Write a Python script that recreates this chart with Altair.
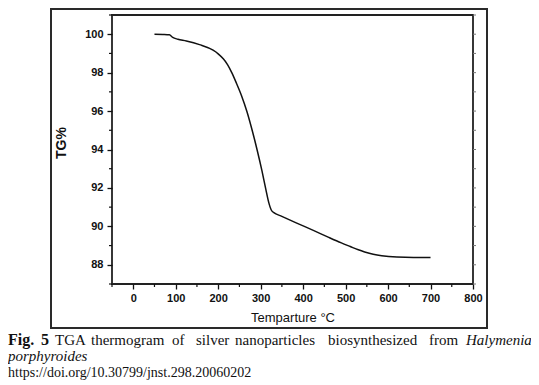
import altair as alt
import pandas as pd

# ---- data ----
temperature = [50, 70, 85, 93, 105, 125, 156, 188, 200, 212, 222, 232, 243, 255, 268, 280,
               292, 303, 312, 319, 325, 332, 346, 385, 424, 459, 490, 511, 530, 545, 565, 585,
               621, 660, 700]
tg_percent = [100.0, 99.99, 99.97, 99.83, 99.74, 99.65, 99.46, 99.17, 98.98, 98.72, 98.42, 98.0,
              97.45, 96.8, 95.95, 95.0, 93.95, 92.9, 91.95, 91.25, 90.85, 90.7, 90.56, 90.17,
              89.79, 89.44, 89.14, 88.95, 88.78, 88.67, 88.55, 88.47, 88.40, 88.38, 88.38]

y_major = [88, 90, 92, 94, 96, 98, 100]
y_minor = [87, 89, 91, 93, 95, 97, 99, 101]
x_major = [0, 100, 200, 300, 400, 500, 600, 700, 800]
x_minor = [-50, 50, 150, 250, 350, 450, 550, 650, 750]

x_title = "Temparture °C"
y_title = "TG%"
cap_words = ["TGA", "thermogram", "of", "silver", "nanoparticles", "biosynthesized", "from"]
cap_x = [-57, -21, 60, 84, 123, 216, 317]

W, H = 361, 269
xs = alt.Scale(domain=[-50, 800], nice=False, zero=False)
ys = alt.Scale(domain=[87, 101], nice=False, zero=False)

df = pd.DataFrame({"T": temperature, "TG": tg_percent})
one = pd.DataFrame({"d": [0]})
ymin_df = pd.DataFrame({"v": y_minor})
yall_df = pd.DataFrame({"v": sorted(y_major + y_minor)})
xmin_df = pd.DataFrame({"v": x_minor})

AX_FONT = "Liberation Sans"

line = alt.Chart(df).mark_line(color="#111111", strokeWidth=1.5, interpolate="monotone").encode(
    x=alt.X("T:Q", scale=xs, axis=alt.Axis(
        orient="bottom", values=x_major, title=None, grid=False, domain=False, tickSize=5,
        tickWidth=1.3, tickColor="#111111", labelFont=AX_FONT, labelFontSize=11,
        labelFontWeight="bold", labelColor="#111111", labelPadding=3, format="d",
        labelFlush=False)),
    y=alt.Y("TG:Q", scale=ys, axis=alt.Axis(
        orient="left", values=y_major, title=None, grid=False, domain=False, tickSize=5,
        tickWidth=1.3, tickColor="#111111", labelFont=AX_FONT, labelFontSize=11,
        labelFontWeight="bold", labelColor="#111111", labelPadding=4, format="d")),
)

y_minor_ticks = alt.Chart(ymin_df).mark_rule(color="#111111", strokeWidth=1.2).encode(
    y=alt.Y("v:Q", scale=ys, axis=None), x=alt.value(-3), x2=alt.value(0))
x_minor_ticks = alt.Chart(xmin_df).mark_rule(color="#111111", strokeWidth=1.2).encode(
    x=alt.X("v:Q", scale=xs, axis=None), y=alt.value(H), y2=alt.value(H + 3))
right_ticks = alt.Chart(yall_df).mark_rule(color="#777777", strokeWidth=1).encode(
    y=alt.Y("v:Q", scale=ys, axis=None), x=alt.value(W), x2=alt.value(W + 3))

outer_box = alt.Chart(one).mark_rect(fillOpacity=0, stroke="#2a2a2a", strokeWidth=2).encode(
    x=alt.value(-61), x2=alt.value(375), y=alt.value(-6), y2=alt.value(313))


def txt(text, x, y, **kw):
    return alt.Chart(one).mark_text(text=text, **kw).encode(x=alt.value(x), y=alt.value(y))


ytitle = txt(y_title, -50, 128, angle=270, font=AX_FONT, fontSize=14, fontWeight="bold",
             color="#111111", align="center", baseline="middle")
xtitle = txt(x_title, 181, 303, font=AX_FONT, fontSize=13, color="#111111",
             align="center", baseline="middle")

SERIF = "Liberation Serif"
caption = [
    txt("Fig.", -104, 330, font=SERIF, fontSize=16, fontWeight="bold", color="#111111",
        align="left", baseline="alphabetic"),
    txt("5", -71, 330, font=SERIF, fontSize=16, fontWeight="bold", color="#111111",
        align="left", baseline="alphabetic"),
]
for w, xx in zip(cap_words, cap_x):
    caption.append(txt(w, xx, 330, font=SERIF, fontSize=15, color="#111111",
                       align="left", baseline="alphabetic"))
caption.append(txt("Halymenia", 354, 330, font=SERIF, fontSize=15, fontStyle="italic",
                   color="#111111", align="left", baseline="alphabetic"))
caption.append(txt("porphyroides", -104, 346, font=SERIF, fontSize=15, fontStyle="italic",
                   color="#111111", align="left", baseline="alphabetic"))
caption.append(txt("https://doi.org/10.30799/jnst.298.20060202", -104, 362, font=SERIF,
                   fontSize=14, color="#111111", align="left", baseline="alphabetic"))

chart = alt.layer(line, outer_box, y_minor_ticks, x_minor_ticks, right_ticks,
                  ytitle, xtitle, *caption).resolve_axis(
    x="independent", y="independent"
).properties(
    width=W, height=H,
    autosize=alt.AutoSizeParams(type="none"),
    padding={"left": 104, "top": 7, "right": 58, "bottom": 101},
    background="white",
).configure_view(stroke="#222222", strokeWidth=1.8)

chart.save("out.html", embed_options={"renderer": "svg", "actions": False})
